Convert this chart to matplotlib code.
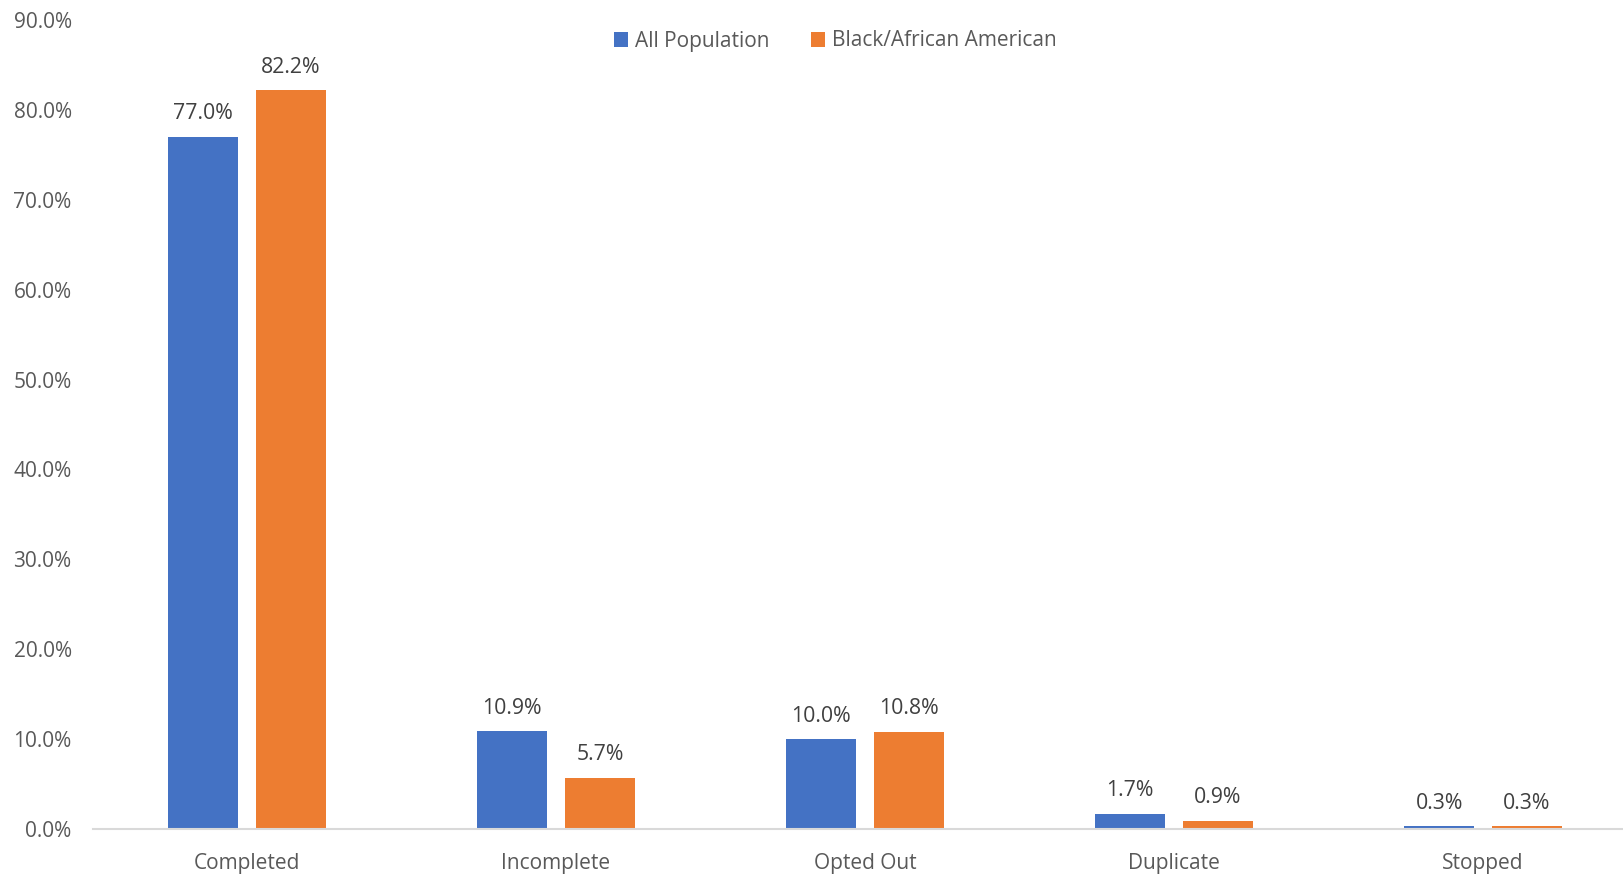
import numpy as np
import matplotlib
matplotlib.use("Agg")
import matplotlib.pyplot as plt

# data
categories = ['Completed', 'Incomplete', 'Opted Out', 'Duplicate', 'Stopped']
all_pop = [77.0, 10.9, 10.0, 1.7, 0.3]
black_aa = [82.2, 5.7, 10.8, 0.9, 0.3]
series_names = ['All Population', 'Black/African American']

plt.rcParams['font.family'] = ['Open Sans', 'DejaVu Sans']
txt = '#595959'

fig = plt.figure(figsize=(16.23, 8.74), dpi=100)
ax = fig.add_axes([92.5 / 1623, 45 / 874, 1545 / 1623, 809 / 874])

x = np.arange(len(categories))
w = 0.227
b1 = ax.bar(x - 0.142, all_pop, w, color='#4472C4', label=series_names[0])
b2 = ax.bar(x + 0.142, black_aa, w, color='#ED7D31', label=series_names[1])

for bars, vals in [(b1, all_pop), (b2, black_aa)]:
    for r, v in zip(bars, vals):
        ax.annotate(f'{v:.1f}%', (r.get_x() + r.get_width() / 2, v),
                    xytext=(0, 9), textcoords='offset points',
                    ha='center', va='bottom', fontsize=15.3, color='#404040')

ax.set_xlim(-0.5, 4.5)
ax.set_ylim(0, 90)
ax.set_yticks(np.arange(0, 91, 10))
ax.set_yticklabels([f'{t:.1f}%' for t in np.arange(0, 91, 10)])
ax.set_xticks(x)
ax.set_xticklabels(categories)
ax.tick_params(axis='both', length=0, labelsize=15, colors=txt)
ax.tick_params(axis='x', pad=17)
ax.tick_params(axis='y', pad=15)

for s in ['top', 'right', 'left']:
    ax.spines[s].set_visible(False)
ax.spines['bottom'].set_color('#d9d9d9')
ax.spines['bottom'].set_linewidth(1.5)

leg = ax.legend(loc='center', bbox_to_anchor=(835 / 1623, 1 - 41 / 874),
                bbox_transform=fig.transFigure, ncol=2, frameon=False,
                fontsize=15, handlelength=0.7, handleheight=0.7,
                handletextpad=0.3, columnspacing=2.0)
for t in leg.get_texts():
    t.set_color(txt)

fig.savefig('out.png', dpi=100)
